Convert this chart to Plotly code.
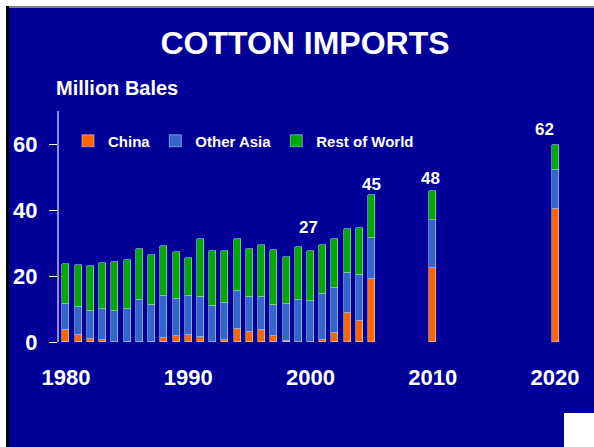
import plotly.graph_objects as go

# data (million bales)
years = [1980, 1981, 1982, 1983, 1984, 1985, 1986, 1987, 1988, 1989,
         1990, 1991, 1992, 1993, 1994, 1995, 1996, 1997, 1998, 1999,
         2000, 2001, 2002, 2003, 2004, 2005, 2010, 2020]
china = [3.6, 2.1, 0.9, 0.6, 0.0, 0.0, 0.0, 0.0, 1.2, 1.8,
         2.1, 1.5, 0.0, 0.6, 3.9, 3.0, 3.6, 1.8, 0.3, 0.0,
         0.0, 0.6, 2.7, 8.8, 6.4, 19.1, 22.4, 40.3]
other_asia = [7.9, 8.5, 8.5, 9.4, 9.4, 10.0, 12.7, 11.2, 12.7, 11.2,
              11.8, 12.1, 10.9, 11.2, 11.6, 10.6, 10.0, 9.4, 11.2, 12.7,
              12.4, 13.9, 13.7, 12.1, 13.9, 12.4, 14.6, 11.8]
rest_of_world = [12.1, 12.7, 13.6, 13.9, 14.8, 14.8, 15.5, 15.2, 15.2, 14.3,
                 11.6, 17.6, 16.7, 15.8, 15.7, 14.6, 15.8, 16.7, 14.3, 16.1,
                 15.2, 14.9, 14.8, 13.3, 14.2, 13.0, 8.8, 7.6]

label_years = [2000, 2005, 2010, 2020]
label_text = ["27", "45", "48", "62"]

x_ticks = [1980, 1990, 2000, 2010, 2020]
y_ticks = [0, 20, 40, 60]

BG = "#000099"
FONT = "Liberation Sans, Arial, sans-serif"

W, H = 594, 447
L, R, T, B = 59, 20, 111, 105
pw, ph = W - L - R, H - T - B


def px(x):
  return (x - L) / pw


def py(y):
  return (H - B - y) / ph


fig = go.Figure()
fig.add_trace(go.Bar(x=years, y=china, name="China", marker_color="#FF6600", width=0.57))
fig.add_trace(go.Bar(x=years, y=other_asia, name="Other Asia", marker_color="#3366CC", width=0.57))
fig.add_trace(go.Bar(x=years, y=rest_of_world, name="Rest of World", marker_color="#00AA00", width=0.57))

totals = {yr: c + o + r for yr, c, o, r in zip(years, china, other_asia, rest_of_world)}
shifts = {2000: (-2, 23), 2005: (0, 11), 2010: (-2, 12), 2020: (-11, 15)}
for yr, txt in zip(label_years, label_text):
  dx, dy = shifts[yr]
  fig.add_annotation(x=yr, y=totals[yr], text=txt, showarrow=False,
                     xshift=dx, yshift=dy, yanchor="middle",
                     font=dict(family=FONT, size=17, color="white", weight="bold"))

fig.add_annotation(x=px(54), y=py(88), xref="paper", yref="paper", text="Million Bales",
                   showarrow=False, xanchor="left", yanchor="middle",
                   font=dict(family=FONT, size=20, color="white", weight="bold"))

shapes = [
  # slide border: white margin, grey top line, black left line
  dict(type="rect", xref="paper", yref="paper", x0=px(0), x1=px(W), y0=py(0), y1=py(6),
       fillcolor="white", line_width=0, layer="below"),
  dict(type="rect", xref="paper", yref="paper", x0=px(6), x1=px(W), y0=py(6), y1=py(8),
       fillcolor="#7f7f7f", line_width=0, layer="below"),
  dict(type="rect", xref="paper", yref="paper", x0=px(0), x1=px(6), y0=py(0), y1=py(H),
       fillcolor="white", line_width=0, layer="below"),
  dict(type="rect", xref="paper", yref="paper", x0=px(6), x1=px(9), y0=py(6), y1=py(H),
       fillcolor="black", line_width=0, layer="below"),
  # logo patch bottom right
  dict(type="rect", xref="paper", yref="paper", x0=px(564), x1=px(W), y0=py(413), y1=py(H),
       fillcolor="white", line_width=0, layer="below"),
]

fig.update_layout(
  width=W, height=H,
  margin=dict(l=L, r=R, t=T, b=B),
  paper_bgcolor=BG, plot_bgcolor=BG,
  barmode="stack", bargap=0,
  font=dict(family=FONT, color="white"),
  title=dict(text="COTTON IMPORTS", x=305 / W, y=1 - 43 / H, xanchor="center", yanchor="middle",
             font=dict(family=FONT, size=32, color="white", weight="bold")),
  legend=dict(orientation="h", x=px(68), y=py(141), xanchor="left", yanchor="middle",
              traceorder="normal",
              bgcolor="rgba(0,0,0,0)", font=dict(family=FONT, size=15, color="white", weight="bold"),
              itemwidth=30, tracegroupgap=0),
  shapes=shapes,
  xaxis=dict(range=[1979.43, 2021.55], tickvals=x_ticks, ticks="", showline=False,
             showgrid=False, zeroline=False, ticklabelstandoff=20,
             tickfont=dict(family=FONT, size=22, color="white", weight="bold")),
  yaxis=dict(range=[0, 70], tickvals=y_ticks, ticks="outside", ticklen=8, tickcolor="white",
             showline=True, linecolor="#8c8ce6", linewidth=2, showgrid=False, zeroline=False,
             ticklabelstandoff=7,
             tickfont=dict(family=FONT, size=22, color="white", weight="bold")),
)

fig.write_html("out.html", config={"displayModeBar": False},
               post_script="document.body.style.margin='0';")
